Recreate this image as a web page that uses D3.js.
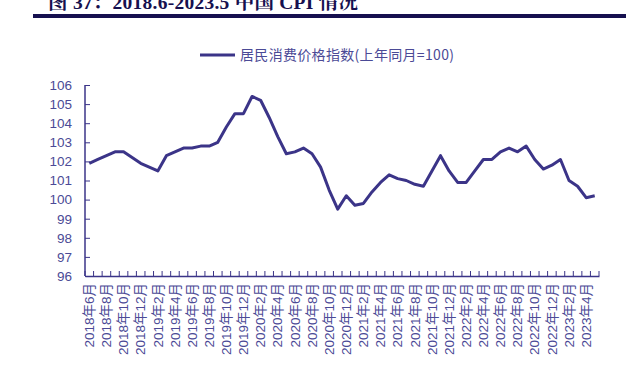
<!DOCTYPE html>
<html><head><meta charset="utf-8">
<script src="https://cdn.jsdelivr.net/npm/d3@7"></script>
<style>body{margin:0;background:#fff}svg{display:block}</style>
</head><body>
<svg id="c" width="626" height="367"></svg>
<script>
const titleText = "图 37：2018.6-2023.5 中国 CPI 情况";
const seriesName = "居民消费价格指数(上年同月=100)";
const months = [];
(function(){ let y=2018,m=6; for(let i=0;i<60;i++){ months.push(y+"年"+m+"月"); m++; if(m>12){m=1;y++;} } })();
const cpi = [101.9,102.1,102.3,102.5,102.5,102.2,101.9,
 101.7,101.5,102.3,102.5,102.7,102.7,102.8,102.8,103.0,103.8,104.5,104.5,
 105.4,105.2,104.3,103.3,102.4,102.5,102.7,102.4,101.7,100.5,99.5,100.2,
 99.7,99.8,100.4,100.9,101.3,101.1,101.0,100.8,100.7,101.5,102.3,101.5,
 100.9,100.9,101.5,102.1,102.1,102.5,102.7,102.5,102.8,102.1,101.6,101.8,
 102.1,101.0,100.7,100.1,100.2];
const yTicks = [96,97,98,99,100,101,102,103,104,105,106];

const svg = d3.select("#c");
const navy = "#16104f", lineC = "#3b3488", txtC = "#4b4a96";
// title (cut off at top, as in the reference)
svg.append("text").attr("x",48).attr("y",9).attr("font-family","Liberation Serif, Noto Serif CJK SC, serif")
  .attr("font-weight","bold").attr("font-size",19.5).attr("textLength",310).attr("fill",navy).text(titleText);
svg.append("rect").attr("x",33).attr("y",14).attr("width",593).attr("height",4).attr("fill",navy);

const L=85,R=599,T=85,B=276;
const x = d3.scaleBand().domain(months).range([L,R]);
const y = d3.scaleLinear().domain([96,106]).range([B,T]);

// y axis
const ya = svg.append("g").attr("transform",`translate(${L},0)`)
  .call(d3.axisLeft(y).tickValues(yTicks).tickSize(4).tickSizeOuter(0).tickPadding(9));
ya.select(".domain").attr("stroke",lineC).attr("stroke-width",1.5).attr("d",`M0,${T}V${B}`);
ya.selectAll(".tick line").attr("stroke",lineC).attr("x1",0).attr("x2",5);
ya.selectAll(".tick text").attr("fill",txtC).attr("font-family","Liberation Sans, Arial, sans-serif").attr("font-size",13.5);

// x axis
const xa = svg.append("g").attr("transform",`translate(0,${B})`)
  .call(d3.axisBottom(x).tickValues(months.filter((d,i)=>i%2===0)).tickSize(0).tickPadding(0));
xa.select(".domain").attr("stroke",lineC).attr("stroke-width",1.5);
xa.selectAll(".tick text").attr("fill",txtC).attr("font-family","Liberation Sans, Noto Sans CJK SC, sans-serif").attr("font-size",13.5)
  .attr("transform","rotate(-90)").attr("text-anchor","end").attr("dy","0.35em").attr("x",-7).attr("y",0);
// boundary ticks
const bounds = months.map(m=>x(m)).concat([R]);
svg.append("g").selectAll("line").data(bounds).join("line")
  .attr("x1",d=>d).attr("x2",d=>d).attr("y1",B).attr("y2",B-5).attr("stroke",lineC).attr("stroke-width",1);

// line
const line = d3.line().x((d,i)=>x(months[i])+x.bandwidth()/2).y(d=>y(d));
svg.append("path").datum(cpi).attr("d",line).attr("fill","none").attr("stroke",lineC).attr("stroke-width",3).attr("stroke-linejoin","round");

// legend
svg.append("line").attr("x1",200).attr("x2",235).attr("y1",55).attr("y2",55).attr("stroke",lineC).attr("stroke-width",3);
svg.append("text").attr("x",240).attr("y",60).attr("font-family","Noto Sans CJK SC, sans-serif").attr("font-size",14).attr("textLength",214).attr("fill",txtC).text(seriesName);
</script>
</body></html>
